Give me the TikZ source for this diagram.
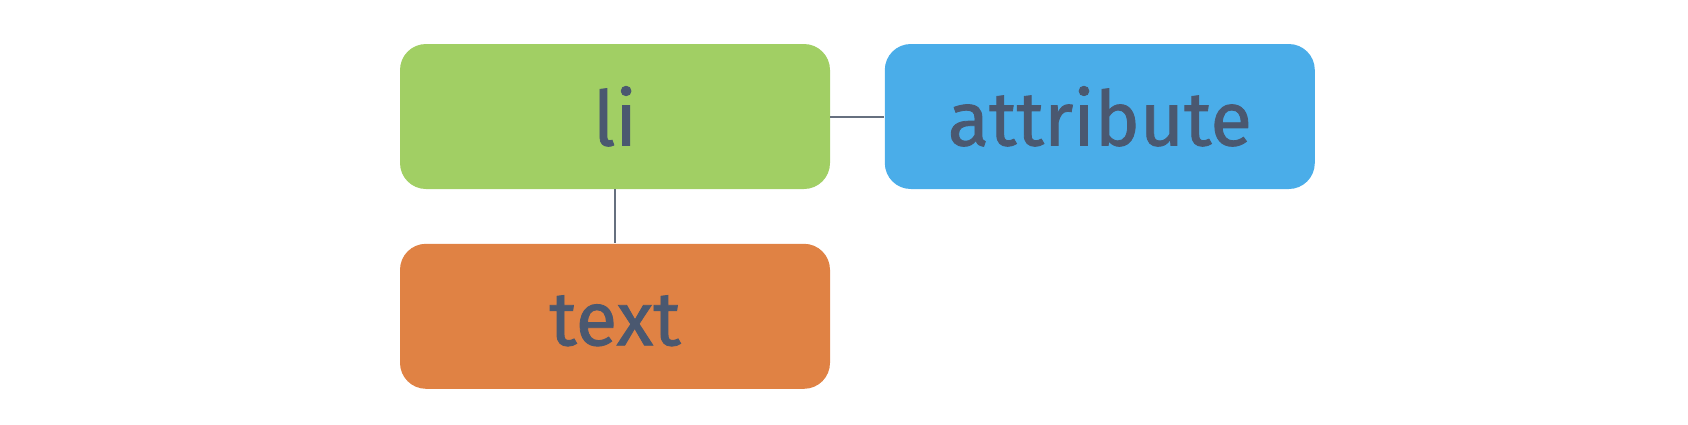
\documentclass[tikz,border=0pt]{standalone}
\usepackage{fontspec}
\setmainfont{Fira Sans}
\newfontfamily\boxfont{Fira Sans}[RawFeature={embolden=1.1}]
\usetikzlibrary{positioning}

\definecolor{ligreen}{HTML}{A1CF64}
\definecolor{attrblue}{HTML}{4AADE9}
\definecolor{textorange}{HTML}{E08244}
\definecolor{labelgray}{HTML}{4A5870}
\definecolor{linkgray}{HTML}{66707F}

\begin{document}
\begin{tikzpicture}[x=0.5pt, y=-0.5pt, node distance=27pt,
	box/.style={rounded corners=13pt, minimum width=215pt, minimum height=72.5pt,
		inner sep=0pt, text=labelgray, font=\boxfont\fontsize{38}{38}\selectfont,
		text height=29pt, text depth=0pt},
	link/.style={draw=linkgray, line width=1pt}]
	\useasboundingbox (0,0) rectangle (1688,424);

	\node[box, fill=ligreen] (li) at (615,116.5) {li};
	\node[box, fill=attrblue] (attr) [right=of li] {attribute};
	\node[box, fill=textorange] (txt) [below=of li] {text};

	\path[link]
		(li) -- (attr)
		(li) -- (txt);
\end{tikzpicture}
\end{document}
